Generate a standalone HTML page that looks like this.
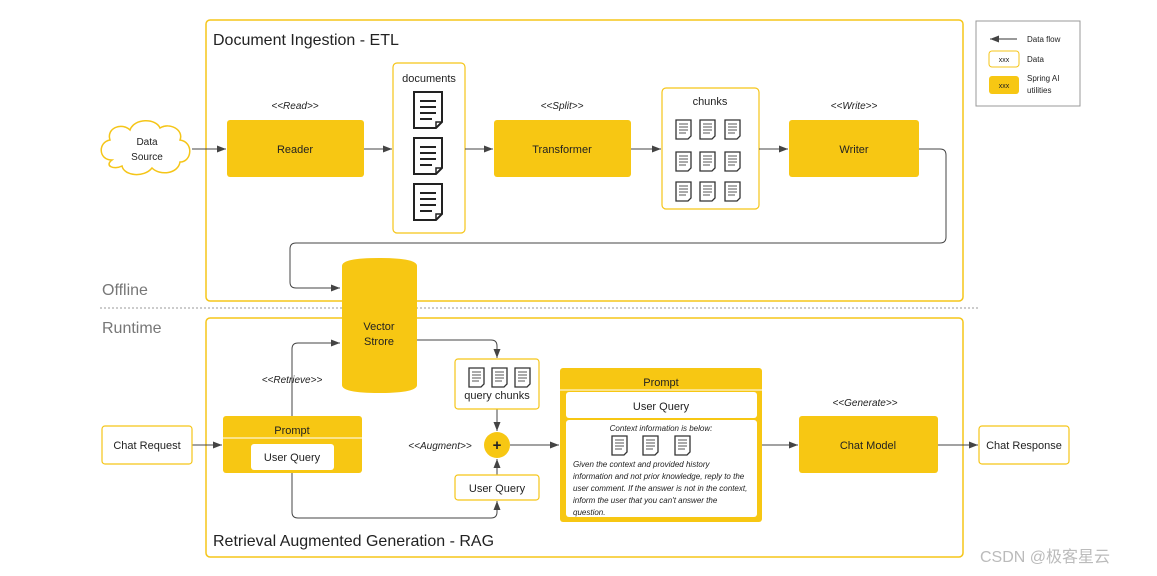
<!DOCTYPE html>
<html><head><meta charset="utf-8"><style>
body{margin:0;background:#fff;}
svg{display:block;font-family:"Liberation Sans","Noto Sans CJK SC",sans-serif;}
</style></head><body>
<svg width="1157" height="576" viewBox="0 0 1157 576">
<defs>
<marker id="a" markerWidth="10" markerHeight="8" refX="9" refY="4" orient="auto" markerUnits="userSpaceOnUse"><path d="M0,0.5 L9,4 L0,7.5z" fill="#444"/></marker>
<g id="doc"><path d="M0,0 H28 V30 L22,36 H0 Z" fill="#fff" stroke="#222" stroke-width="2"/><path d="M22,36 V30 H28" fill="none" stroke="#222" stroke-width="1.5"/><path d="M6,9H22M6,15H22M6,21H22M6,27H18" stroke="#222" stroke-width="2"/></g>
<g id="sd"><path d="M0,0 H15 V16 L12,19 H0 Z" fill="#fff" stroke="#333" stroke-width="1.3"/><path d="M3,4H12M3,7H12M3,10H12M3,13H10" stroke="#555" stroke-width="1"/></g>
</defs>
<rect x="206" y="20" width="757" height="281" rx="4" fill="none" stroke="#F5C518" stroke-width="1.5"/>
<rect x="206" y="318" width="757" height="239" rx="4" fill="none" stroke="#F5C518" stroke-width="1.5"/>
<text x="213" y="45" font-size="16" fill="#222">Document Ingestion - ETL</text>
<text x="213" y="546" font-size="16" fill="#222">Retrieval Augmented Generation - RAG</text>
<line x1="100" y1="308" x2="980" y2="308" stroke="#999" stroke-dasharray="2,2"/>
<text x="102" y="295" font-size="16" fill="#777">Offline</text>
<text x="102" y="333" font-size="16" fill="#777">Runtime</text>
<!-- cloud -->
<path d="M112,160 C98,160 98,142 110,140 C106,128 122,122 130,130 C134,118 156,118 160,128 C170,122 184,130 180,140 C194,142 192,162 180,162 C178,174 160,176 152,168 C144,178 124,176 122,166 C114,170 104,166 112,160Z" fill="#fff" stroke="#F5C518" stroke-width="1.5"/>
<text x="147" y="145" font-size="10" text-anchor="middle" fill="#222">Data</text>
<text x="147" y="160" font-size="10" text-anchor="middle" fill="#222">Source</text>
<g font-size="11" fill="#222" text-anchor="middle">
<rect x="227" y="120" width="137" height="57" rx="3" fill="#F7C713"/><text x="295" y="153">Reader</text>
<text x="295" y="109" font-size="10" font-style="italic">&lt;&lt;Read&gt;&gt;</text>
<rect x="393" y="63" width="72" height="170" rx="4" fill="#fff" stroke="#F5C518" stroke-width="1.2"/>
<text x="429" y="82">documents</text>
<rect x="494" y="120" width="137" height="57" rx="3" fill="#F7C713"/><text x="562" y="153">Transformer</text>
<text x="562" y="109" font-size="10" font-style="italic">&lt;&lt;Split&gt;&gt;</text>
<rect x="662" y="88" width="97" height="121" rx="4" fill="#fff" stroke="#F5C518" stroke-width="1.2"/>
<text x="710" y="105">chunks</text>
<rect x="789" y="120" width="130" height="57" rx="3" fill="#F7C713"/><text x="854" y="153">Writer</text>
<text x="854" y="109" font-size="10" font-style="italic">&lt;&lt;Write&gt;&gt;</text>
</g>
<use href="#doc" x="414" y="92"/><use href="#doc" x="414" y="138"/><use href="#doc" x="414" y="184"/>
<use href="#sd" x="676" y="120"/><use href="#sd" x="700" y="120"/><use href="#sd" x="725" y="120"/>
<use href="#sd" x="676" y="152"/><use href="#sd" x="700" y="152"/><use href="#sd" x="725" y="152"/>
<use href="#sd" x="676" y="182"/><use href="#sd" x="700" y="182"/><use href="#sd" x="725" y="182"/>
<g stroke="#444" stroke-width="1" fill="none" marker-end="url(#a)">
<path d="M192,149H226"/><path d="M364,149H392"/><path d="M465,149H493"/><path d="M631,149H661"/><path d="M759,149H788"/>
<path d="M919,149H940Q946,149 946,155V237Q946,243 940,243H296Q290,243 290,249V282Q290,288 296,288H340"/>
<path d="M192,445H222"/>
<path d="M292,416V349Q292,343 298,343H340"/>
<path d="M417,340H491Q497,340 497,346V358"/>
<path d="M497,409V431"/>
<path d="M497,475V459"/>
<path d="M292,473V512Q292,518 298,518H491Q497,518 497,512V501"/>
<path d="M510,445H559"/>
<path d="M762,445H798"/>
<path d="M938,445H978"/>
</g>
<!-- cylinder -->
<path d="M342,266 Q342,258 379,258 Q417,258 417,266 V385 Q417,393 379,393 Q342,393 342,385Z" fill="#F7C713"/>
<g font-size="11" fill="#222" text-anchor="middle">
<text x="379" y="330">Vector</text><text x="379" y="345">Strore</text>
<text x="292" y="383" font-size="10" font-style="italic">&lt;&lt;Retrieve&gt;&gt;</text>
<rect x="102" y="426" width="90" height="38" rx="3" fill="#fff" stroke="#F5C518" stroke-width="1.2"/><text x="147" y="449">Chat Request</text>
<rect x="223" y="416" width="139" height="57" rx="3" fill="#F7C713"/>
<line x1="223" y1="438" x2="362" y2="438" stroke="#fff" stroke-width="1"/>
<text x="292" y="434">Prompt</text>
<rect x="251" y="444" width="83" height="26" rx="3" fill="#fff"/><text x="292" y="461">User Query</text>
<rect x="455" y="359" width="84" height="50" rx="3" fill="#fff" stroke="#F5C518" stroke-width="1.2"/>
<text x="497" y="399">query chunks</text>
<circle cx="497" cy="445" r="13" fill="#F7C713"/><text x="497" y="450" font-size="15" font-weight="bold">+</text>
<text x="440" y="449" font-size="10" font-style="italic">&lt;&lt;Augment&gt;&gt;</text>
<rect x="455" y="475" width="84" height="25" rx="3" fill="#fff" stroke="#F5C518" stroke-width="1.2"/><text x="497" y="492">User Query</text>
<rect x="560" y="368" width="202" height="154" rx="3" fill="#F7C713"/>
<line x1="560" y1="390" x2="762" y2="390" stroke="#fff"/>
<text x="661" y="386">Prompt</text>
<rect x="566" y="392" width="191" height="26" rx="3" fill="#fff"/><text x="661" y="410">User Query</text>
<rect x="566" y="420" width="191" height="97" rx="3" fill="#fff"/>
<text x="661" y="431" font-size="8" font-style="italic">Context information is below:</text>
<rect x="799" y="416" width="139" height="57" rx="3" fill="#F7C713"/><text x="868" y="449">Chat Model</text>
<text x="865" y="406" font-size="10" font-style="italic">&lt;&lt;Generate&gt;&gt;</text>
<rect x="979" y="426" width="90" height="38" rx="3" fill="#fff" stroke="#F5C518" stroke-width="1.2"/><text x="1024" y="449">Chat Response</text>
</g>
<use href="#sd" x="469" y="368"/><use href="#sd" x="492" y="368"/><use href="#sd" x="515" y="368"/>
<use href="#sd" x="612" y="436"/><use href="#sd" x="643" y="436"/><use href="#sd" x="675" y="436"/>
<g font-size="8" font-style="italic" fill="#222">
<text x="573" y="467">Given the context and provided history</text>
<text x="573" y="479">information and not prior knowledge, reply to the</text>
<text x="573" y="491">user comment. If the answer is not in the context,</text>
<text x="573" y="503">inform the user that you can't answer the</text>
<text x="573" y="515">question.</text>
</g>
<!-- legend -->
<rect x="976" y="21" width="104" height="85" fill="#fff" stroke="#999"/>
<line x1="1017" y1="39" x2="990" y2="39" stroke="#333" marker-end="url(#a)"/>
<g font-size="8" fill="#222">
<text x="1027" y="42">Data flow</text>
<rect x="989" y="51" width="30" height="16" rx="3" fill="#fff" stroke="#F5C518"/><text x="1004" y="62" text-anchor="middle" font-size="7">xxx</text>
<text x="1027" y="62">Data</text>
<rect x="989" y="76" width="30" height="18" rx="3" fill="#F7C713"/><text x="1004" y="88" text-anchor="middle" font-size="7">xxx</text>
<text x="1027" y="81">Spring AI</text><text x="1027" y="93">utilities</text>
</g>
<text x="980" y="562" font-size="16" fill="#bbb">CSDN @极客星云</text>
</svg>
</body></html>
